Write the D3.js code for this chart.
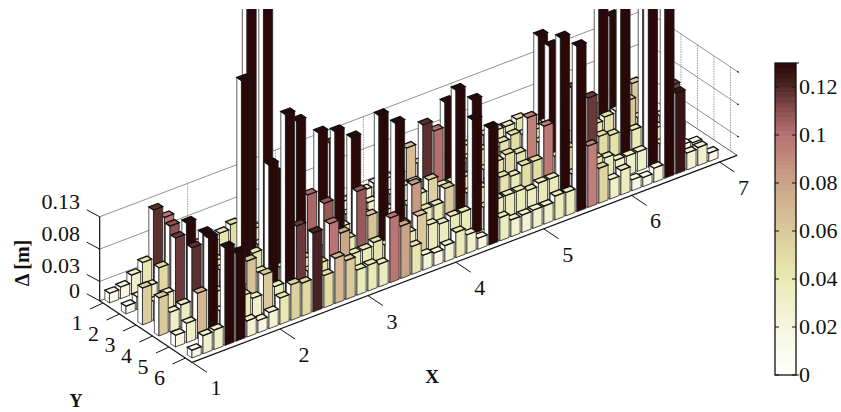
<!DOCTYPE html>
<html>
<head>
<meta charset="utf-8">
<script src="https://cdn.jsdelivr.net/npm/d3@7"></script>
<style>
  html, body { margin: 0; background: #fff; }
  svg { display: block; }
  text { font-family: "Liberation Serif", serif; fill: #111; }
</style>
</head>
<body>
<svg id="chart" width="841" height="412"></svg>
<script>
// deviation per cell, one list per Y row (Y=1 is the back row), 8 cells per X unit
const row1 = [.015,.018,.03,.043,.118,.1,.03,.035,.04,.035,.043,.05,.03,.03,.025,.02,.025,.02,.02,.02,.118,.02,.02,.025,.03,.03,.03,.065,.035,.035,.03,.03,.035,.04,.04,.04,.04,.045,.04,.161,.04,.04,.035,.035,.03,.03,.03,.02];
const row2 = [.012,.02,.03,.052,.11,.04,.035,.04,.03,.035,.03,.5,.03,.03,.035,.03,.03,.03,.03,.03,.025,.03,.03,.035,.03,.035,.035,.118,.102,.14,.035,.04,.045,.04,.045,.05,.045,.045,.05,.05,.045,.045,.05,.5,.176,.04,.059,.03];
const row3 = [.057,.03,.035,.115,.132,.04,.045,.04,.035,.32,.046,.5,.155,.04,.225,.104,.194,.04,.035,.167,.04,.03,.035,.035,.03,.04,.056,.04,.04,.04,.154,.04,.045,.05,.045,.094,.05,.192,.05,.115,.05,.045,.05,.053,.062,.03,.025,.02];
const row4 = [.059,.03,.035,.117,.133,.035,.04,.03,.064,.04,.2,.035,.04,.035,.045,.108,.213,.04,.107,.063,.212,.035,.03,.085,.04,.04,.06,.206,.04,.04,.045,.045,.04,.05,.05,.098,.045,.05,.05,.116,.05,.045,.5,.04,.5,.03,.02,.02];
const row5 = [.018,.03,.07,.149,.03,.035,.04,.03,.06,.035,.295,.116,.04,.045,.1,.079,.04,.04,.045,.035,.217,.04,.06,.04,.035,.04,.04,.177,.035,.04,.04,.04,.035,.04,.04,.252,.035,.04,.045,.04,.03,.03,.03,.5,.03,.113,.015,.012];
const row6 = [.012,.028,.03,.151,.136,.025,.019,.025,.041,.055,.051,.122,.05,.07,.06,.039,.04,.035,.1,.081,.043,.023,.02,.025,.039,.029,.017,.181,.036,.026,.027,.028,.028,.037,.036,.256,.095,.054,.03,.038,.017,.014,.022,.5,.125,.026,.028,.013];
const rows = [row1, row2, row3, row4, row5, row6];

const xTicks = [1, 2, 3, 4, 5, 6, 7];
const yTicks = [1, 2, 3, 4, 5, 6];
const zTicks = [0, 0.03, 0.08, 0.13];
const cbTicks = [0, 0.02, 0.04, 0.06, 0.08, 0.1, 0.12];

const cmapStops = [0, 0.02, 0.04, 0.05, 0.06, 0.08, 0.1, 0.11, 0.12, 0.13];
const cmapColors = ["#ffffff", "#f6f6de", "#e9e9b6", "#e2dca4", "#d9c99c", "#cba588", "#b87272", "#8c5050", "#4e2626", "#2a0808"];

const svg = d3.select("#chart");

// oblique projection: each data axis just moves the point along its own screen direction
const xToSx = d3.scaleLinear([1, 7], [103, 630.4]);
const xToSy = d3.scaleLinear([1, 7], [303, 102.6]);
const yToSx = d3.scaleLinear([1, 6], [0, 82.5]);
const yToSy = d3.scaleLinear([1, 6], [0, 55]);
const zToH = d3.scaleLinear([0, 0.13], [0, 84]);

function project(x, y, z) {
    return [xToSx(x) + yToSx(y), xToSy(x) + yToSy(y) - zToH(z)];
}

const xMin = 1, xMax = 7.2, yMin = 0.8, yMax = 6.4, zTop = 0.13;
const colX = d3.scaleLinear([0, 47], [1.1, 6.98]);
const colW = colX(1) - colX(0);

const colorLinear = d3.scaleLinear(cmapStops, cmapColors).clamp(true);
// the colormap has discrete steps like the colorbar
const barColor = v => colorLinear(Math.round(v / 0.13 * 63) / 63 * 0.13);

const line = (pts, o) => {
    const p = svg.append("path").attr("d", d3.line()(pts)).attr("fill", "none");
    Object.entries(o).forEach(([k, v]) => p.attr(k, v));
    return p;
};

// walls
zTicks.forEach(z => {
    line([project(xMin, yMin, z), project(xMax, yMin, z), project(xMax, yMax, z)], {stroke: z == 0 ? "#333" : "#777", "stroke-width": 0.8});
});
xTicks.slice(1, 6).forEach(x => {
    line([project(x, yMin, 0), project(x, yMin, zTop)], {stroke: "#888", "stroke-width": 0.8, "stroke-dasharray": "1.5,1"});
});
yTicks.forEach(y => {
    line([project(xMax, y, 0), project(xMax, y, zTop)], {stroke: "#888", "stroke-width": 0.8, "stroke-dasharray": "1.5,1"});
});
[0.03, 0.08, 0.13].forEach(z => {
    line([project(xMax, yMax, z), project(xMax, yMax + 0.1, z)], {stroke: "#111", "stroke-width": 1.2});
});

// axes
line([project(xMin, yMin, 0), project(xMin, yMin, zTop)], {stroke: "#111", "stroke-width": 1.2});
line([project(xMin, yMin, 0), project(xMin, yMax, 0)], {stroke: "#111", "stroke-width": 1.2});
line([project(xMin, yMax, 0), project(xMax, yMax, 0)], {stroke: "#111", "stroke-width": 1.2});

zTicks.forEach(z => {
    const p = project(xMin, yMin, z);
    line([p, [p[0] - 13, p[1] - 7]], {stroke: "#111", "stroke-width": 1});
    svg.append("text").attr("x", 80).attr("y", p[1] - 8 + (z == 0 ? 5 : 0))
        .attr("text-anchor", "end").attr("font-size", 22).text(z);
});
yTicks.forEach(y => {
    const p = project(xMin, y, 0);
    line([p, [p[0] - 13, p[1] + 6]], {stroke: "#111", "stroke-width": 1});
    svg.append("text").attr("x", p[0] - 26).attr("y", p[1] + 27)
        .attr("text-anchor", "middle").attr("font-size", 22).text(y);
});
xTicks.forEach(x => {
    const p = project(x, yMax, 0);
    line([p, [p[0] + 15, p[1] + 10]], {stroke: "#111", "stroke-width": 1});
    svg.append("text").attr("x", p[0] + 24).attr("y", p[1] + 33)
        .attr("text-anchor", "middle").attr("font-size", 22).text(x);
});

// bars, painted back to front
svg.append("clipPath").attr("id", "clipTop")
    .append("rect").attr("x", 0).attr("y", 9).attr("width", 841).attr("height", 403);

const cells = [];
rows.forEach((row, r) => {
    d3.range(row.length - 1, -1, -1).forEach(c => {
        if (row[c] > 0) cells.push({x: colX(c), y: r + 1, v: row[c]});
    });
});

const halfX = colW * 0.42, halfY = 0.14;
const bar = svg.append("g").attr("clip-path", "url(#clipTop)")
    .selectAll("g").data(cells).join("g");

const poly = pts => pts.map(p => p.join(",")).join(" ");

bar.append("polygon")
    .attr("points", d => poly([
        project(d.x - halfX, d.y - halfY, 0), project(d.x - halfX, d.y + halfY, 0),
        project(d.x - halfX, d.y + halfY, d.v), project(d.x - halfX, d.y - halfY, d.v)]))
    .attr("fill", "#fff").attr("stroke", "#333").attr("stroke-width", 0.8);
bar.append("polygon")
    .attr("points", d => poly([
        project(d.x - halfX, d.y + halfY, 0), project(d.x + halfX, d.y + halfY, 0),
        project(d.x + halfX, d.y + halfY, d.v), project(d.x - halfX, d.y + halfY, d.v)]))
    .attr("fill", d => barColor(d.v)).attr("stroke", "#222").attr("stroke-width", 0.8);
bar.append("polygon")
    .attr("points", d => poly([
        project(d.x - halfX, d.y - halfY, d.v), project(d.x - halfX, d.y + halfY, d.v),
        project(d.x + halfX, d.y + halfY, d.v), project(d.x + halfX, d.y - halfY, d.v)]))
    .attr("fill", d => barColor(d.v)).attr("stroke", "#111").attr("stroke-width", 1.3);

// axis names
svg.append("text").attr("transform", "translate(29,263) rotate(-90)")
    .attr("text-anchor", "middle").attr("font-size", 20).attr("font-weight", "bold").text("Δ [m]");
svg.append("text").attr("x", 432).attr("y", 383)
    .attr("text-anchor", "middle").attr("font-size", 19).attr("font-weight", "bold").text("X");
svg.append("text").attr("x", 76).attr("y", 407)
    .attr("text-anchor", "middle").attr("font-size", 18).attr("font-weight", "bold").text("Y");

// colorbar
const cbY = d3.scaleLinear([0, 0.13], [375, 63]);
const cbLeft = 775, cbRight = 796;
const cbSteps = d3.range(0, 64);
svg.append("g").selectAll("rect").data(cbSteps).join("rect")
    .attr("x", cbLeft).attr("width", cbRight - cbLeft)
    .attr("y", i => cbY((i + 1) / 64 * 0.13))
    .attr("height", i => cbY(i / 64 * 0.13) - cbY((i + 1) / 64 * 0.13) + 0.5)
    .attr("fill", i => colorLinear((i + 0.5) / 64 * 0.13));
svg.append("rect").attr("x", cbLeft).attr("y", 63).attr("width", cbRight - cbLeft).attr("height", 312)
    .attr("fill", "none").attr("stroke", "#111").attr("stroke-width", 1.3);
cbTicks.forEach(t => {
    const y = cbY(t);
    line([[cbLeft, y], [cbLeft + 4, y]], {stroke: "#111", "stroke-width": 1});
    line([[cbRight - 4, y], [cbRight + (t == 0 ? 3 : 0), y]], {stroke: "#111", "stroke-width": 1});
    svg.append("text").attr("x", 799).attr("y", y + 7).attr("font-size", 22).text(t);
});
line([[cbRight, 63], [cbRight + 3, 63]], {stroke: "#111", "stroke-width": 1});
</script>
</body>
</html>
